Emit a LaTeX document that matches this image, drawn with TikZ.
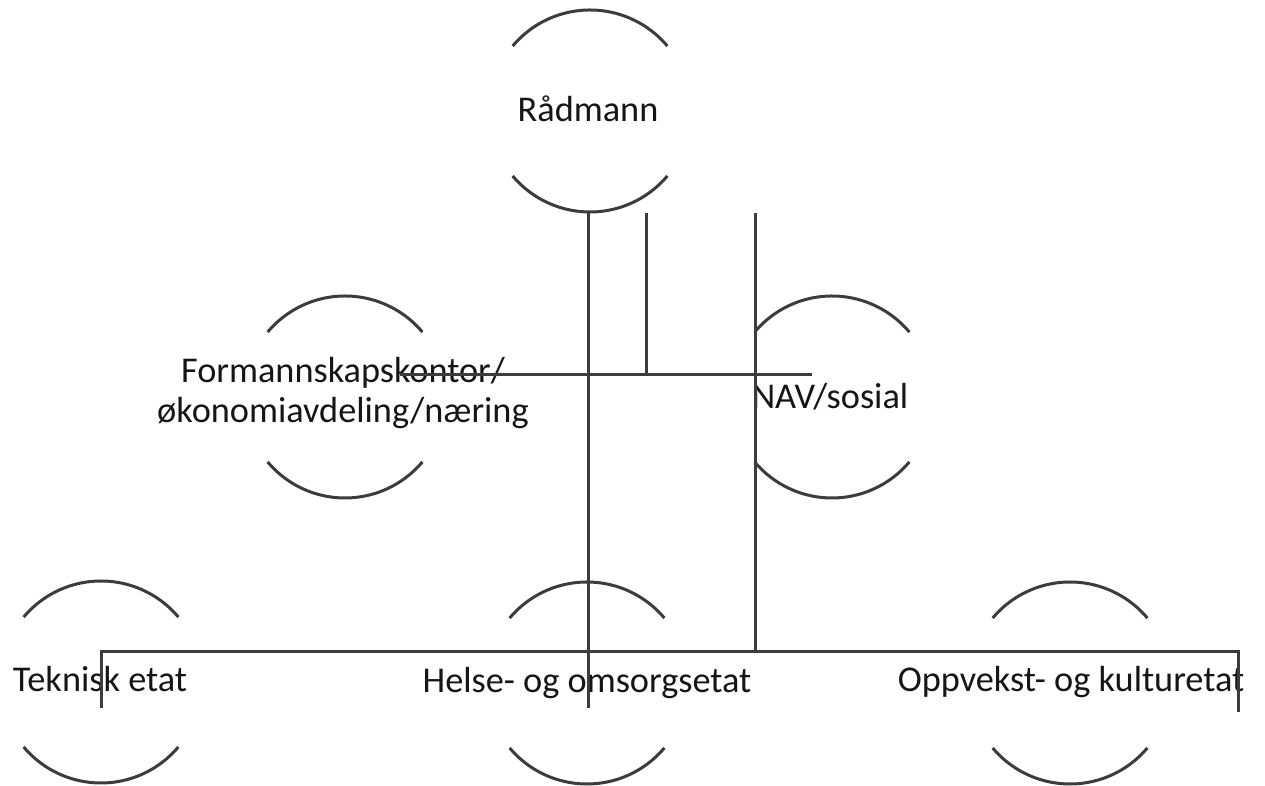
\documentclass[tikz,border=0pt]{standalone}
\usepackage{fontspec}
\setmainfont{Carlito}
\definecolor{linegray}{HTML}{3C3C3C}
\definecolor{textcol}{HTML}{151515}
\begin{document}
\begin{tikzpicture}[x=1pt,y=1pt,
  lbl/.style={inner sep=0pt,anchor=base,text=textcol,font=\fontsize{36.3}{40}\selectfont},
  conn/.style={draw=linegray,line width=3pt},
  arcline/.style={draw=linegray,line width=3pt}]
\useasboundingbox (0,0) rectangle (1265,786);
% circle centres
\coordinate (cR) at (590,675);
\coordinate (cF) at (345,389);
\coordinate (cN) at (832,389);
\coordinate (cT) at (101,104);
\coordinate (cH) at (587,103);
\coordinate (cO) at (1070,103);
% broken circles (top and bottom arcs)
\foreach \c in {cR,cF,cN,cT,cH,cO}{
  \draw[arcline] ([shift={(40:101)}]\c) arc[start angle=40,end angle=140,radius=101];
  \draw[arcline] ([shift={(220:101)}]\c) arc[start angle=220,end angle=320,radius=101];
}
% labels
\node[lbl] (radmann) at (588,664) {Rådmann};
\node[lbl,align=center] (form) at (343,363) {Formannskapskontor/\\økonomiavdeling/næring};
\node[lbl] (nav) at (830,377) {NAV/sosial};
\node[lbl] (teknisk) at (100,94) {Teknisk etat};
\node[lbl] (helse) at (587,93) {Helse- og omsorgsetat};
\node[lbl] (oppvekst) at (1071,94) {Oppvekst- og kulturetat};
% connector points
\coordinate (a1) at (588,574);
\coordinate (a2) at (588,78);
\coordinate (b1) at (646,573);
\coordinate (b2) at (646,411);
\coordinate (c1) at (755,573);
\coordinate (c2) at (755,134);
\coordinate (h1l) at (400,411);
\coordinate (h1r) at (812,411);
\coordinate (h2l) at (101,134);
\coordinate (h2r) at (1238,134);
\coordinate (tl) at (101,78);
\coordinate (tr) at (1238,74);
% connectors
\draw[conn] (a1) -- (a2);
\draw[conn] (b1) -- (b2);
\draw[conn] (c1) -- (c2);
\draw[conn] (h1l) -- (h1r);
\draw[conn] (tl) -- (h2l) -- (h2r) -- (tr);
\end{tikzpicture}
\end{document}
